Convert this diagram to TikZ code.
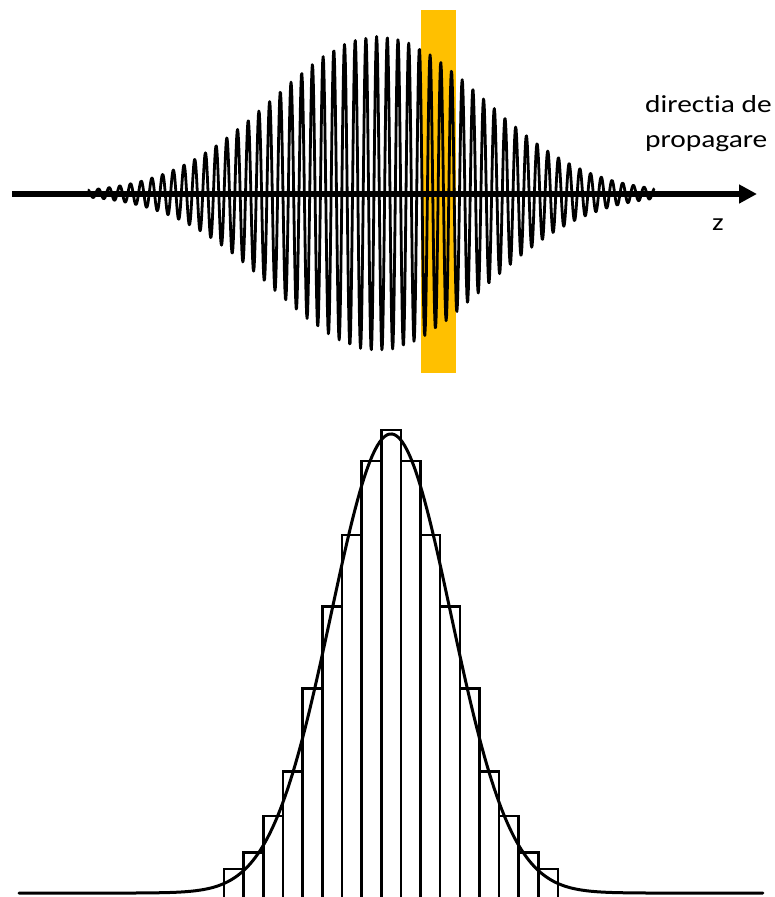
\documentclass[tikz,border=0pt]{standalone}
\usepackage{graphicx}
\usepackage{fontspec}
\setmainfont{Carlito}[Ligatures=NoCommon]
\usetikzlibrary{arrows.meta}
\definecolor{gold}{HTML}{FFC000}
\newcommand{\widetext}[1]{\scalebox{1.2}[1]{#1}}
\tikzset{
  wave/.style={line width=2.8pt, line join=round},
  axisline/.style={line width=5.5pt, -{Triangle[length=18pt,width=18pt]}},
  bar/.style={line width=2.6pt},
  curve/.style={line width=3pt, line cap=round},
  lbl/.style={font=\fontsize{24.5}{28}\selectfont, inner sep=0pt, anchor=base west}
}
\begin{document}
\begin{tikzpicture}[x=1pt,y=-1pt]
\useasboundingbox (0,0) rectangle (774,897);
% highlight bar
\fill[gold] (421,10) rectangle (456,373);
% wave packet
\draw[wave] plot[domain=-28:25, samples=1200, variable=\t]
  ({387.3+10.7*\t}, {193.5-157*exp(-0.5*((9.3+10.7*\t)/105)^2)*cos(360*\t)});
% axis
\coordinate (a0) at (12,194);
\coordinate (a1) at (757,194);
\draw[axisline] (a0) -- (a1);
\node[lbl] (t1) at (645,112) {\widetext{directia de}};
\node[lbl] (t2) at (645,147) {\widetext{propagare}};
\node[font=\fontsize{24.5}{28}\selectfont, inner sep=0pt] (z) at (718,225) {\widetext{z}};
% histogram
\foreach \i/\h in {0/869,1/852.3,2/816,3/771.7,4/688.3,5/606.7,6/535,7/461,8/430,9/461,10/535,11/606.7,12/688.3,13/771.7,14/816,15/852.3,16/869}{
  \draw[bar] ({224+19.65*\i},900) |- ({224+19.65*(\i+1)},\h) -- ({224+19.65*(\i+1)},900);
}
% gaussian curve
\draw[curve] plot[domain=-6.2:6.2, samples=300, variable=\u]
  ({391+60*\u}, {893-459*exp(-0.5*\u*\u)});
\end{tikzpicture}
\end{document}
